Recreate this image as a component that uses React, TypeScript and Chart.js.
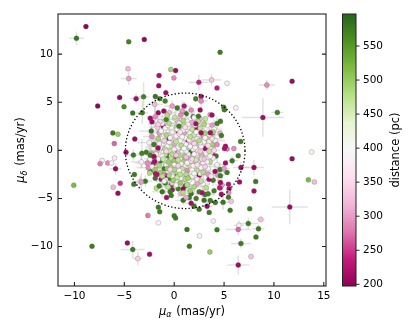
import React, { useEffect, useRef } from "react";
import { Chart, registerables } from "chart.js";

Chart.register(...registerables);

// ---------------- axis setup ----------------
const xTicks = [-10, -5, 0, 5, 10, 15];
const yTicks = [-10, -5, 0, 5, 10];
const cbTicks = [200, 250, 300, 350, 400, 450, 500, 550];
const xRange = [-11.65, 15.22];
const yRange = [-14.1, 14.17];
const distRange = [197.5, 597];
const circleCenter = [1.1, -0.05];
const circleRadius = 6;

// ---------------- outer (halo) stars ----------------
const haloRa = [
  -8.85, -9.8, -4.56, -3.0, 4.6, -4.63, -4.56, -0.34, 0.14, -1.52,
  -0.03, -1.55, 2.47, 3.75, 4.29, 5.3, 9.29, 11.82, -0.84, -5.47,
  -7.67, -3.82, -3.07, -5.03, -1.89, -1.45, -0.91, 2.16, 2.7, 2.7,
  4.97, 5.03, 6.18, 10.34, 8.89, -4.16, -2.4, -2.23, -6.15, -5.64,
  -3.95, -6.01, -4.83, -4.09, -3.24, -5.98, -7.23, -7.43, -6.66, -6.28,
  -5.88, -3.99, -3.41, -4.05, -5.41, -6.11, -5.64, -10.07, -2.64, -1.59,
  -1.45, -1.59, 0.0, 0.14, 1.28, 2.53, 1.52, 3.58, -4.7, -4.16,
  -3.65, -8.24, -2.47, 2.5, 3.51, 3.92, 4.29, 5.61, 5.44, 5.71,
  5.5, 5.44, 6.55, 6.69, 6.42, 6.66, 8.0, 8.17, 8.0, 7.57,
  7.43, 6.49, 6.42, 8.45, 8.68, 8.2, 6.69, 7.7, 6.42, 11.59,
  11.82, 13.78, 13.45, 14.05, 4.73, 4.56, 5.81, 5.3, 2.43, 3.79,
  3.14, 4.63, 2.17, 2.7, 3.62, 4.73, 5.14, 5.04, 5.98, 4.29,
  -1.96, -3.2, -1.04, -0.71, 0.07, 0.65, -1.62, 0.48, -2.23, -2.03,
  -1.62, -2.4, -2.03, -2.7, -1.96, -3.3, -3.3, -2.46, -1.88, -1.73,
  -1.79, -1.5, -0.77, -0.4, 5.14, 4.63, 4.63, 5.47, 3.62, 4.12,
];
const haloDec = [
  12.86, 11.64, 11.29, 11.53, 10.2, 8.47, 7.46, 8.4, 8.29, 7.77,
  7.53, 6.72, 7.07, 7.32, 6.48, 6.97, 6.79, 7.18, 5.99, 5.5,
  4.6, 5.37, 5.57, 4.53, 5.6, 5.37, 5.12, 5.37, 5.6, 5.12,
  4.49, 4.22, 4.42, 3.94, 3.41, 3.87, 3.34, 2.96, 1.81, 1.67,
  1.18, 0.7, -0.21, -0.49, -0.31, -0.8, -1.05, -1.39, -1.32, -1.32,
  -1.92, -2.51, -3.24, -3.52, -3.41, -3.83, -4.46, -3.62, -6.76, -5.92,
  -6.38, -7.53, -6.79, -7.04, -8.22, -8.89, -9.97, -10.56, -9.62, -10.31,
  -11.25, -9.97, -10.8, -6.13, -6.45, -7.35, -8.26, -6.24, -4.88, -5.3,
  -4.0, -3.52, -3.28, -1.78, -0.56, 0.91, -1.78, -3.24, -4.22, -6.06,
  -7.6, -7.8, -8.22, -8.15, -7.18, -9.02, -9.69, -11.04, -11.92, -5.89,
  -0.87, -0.17, -3.07, -3.28, -4.56, -3.9, -1.08, 0.14, 3.55, 3.66,
  3.28, 3.03, 2.76, 1.82, 1.82, 1.54, 0.42, 0.18, 0.18, 0.6,
  4.78, 3.91, 4.08, 3.66, 3.45, 3.66, 2.69, 2.51, 1.43, 0.6,
  0.25, -0.5, -0.63, -1.32, -1.15, -1.2, -3.3, -2.36, -2.43, -2.5,
  -3.93, -3.7, -4.91, -4.3, -1.32, -2.64, -3.34, -4.39, -5.22, -5.43,
];
const haloDist = [
  200, 580, 570, 205, 575, 320, 300, 490, 212, 220,
  290, 215, 240, 330, 235, 375, 290, 210, 215, 205,
  200, 215, 570, 560, 580, 575, 570, 570, 220, 290,
  570, 575, 380, 570, 215, 580, 215, 210, 575, 500,
  210, 270, 210, 575, 570, 365, 375, 280, 290, 385,
  210, 575, 370, 575, 250, 320, 210, 520, 280, 575,
  575, 385, 575, 575, 580, 380, 575, 500, 210, 575,
  340, 575, 215, 575, 575, 385, 575, 580, 575, 330,
  215, 225, 215, 210, 575, 575, 210, 575, 215, 575,
  575, 385, 270, 575, 330, 575, 575, 330, 210, 210,
  210, 420, 520, 320, 215, 230, 575, 280, 575, 215,
  470, 575, 215, 215, 215, 575, 215, 220, 290, 290,
  320, 575, 210, 480, 470, 290, 340, 575, 290, 575,
  215, 575, 210, 290, 215, 385, 300, 480, 215, 220,
  480, 575, 215, 575, 215, 575, 215, 290, 575, 575,
];
const haloErrRa = [
  0, 0.75, 0, 0, 0, 0, 0.8, 0, 0, 0,
  0, 0, 1.0, 1.0, 0, 0, 0.8, 0, 0, 0,
  0, 0.6, 0.5, 0, 0, 0, 0, 0, 0, 0.7,
  0, 0, 0, 0.6, 2.1, 0, 0, 0, 0, 0,
  0, 0, 0, 0.8, 0.5, 0, 0, 0, 0, 0,
  0.6, 0, 0.8, 0, 0, 0, 0, 0, 0, 0,
  0, 0, 0, 0, 0, 0, 0, 0, 0, 1.2,
  0.5, 0, 0, 0, 0, 0, 0, 0, 0, 0,
  0, 0, 0, 0.8, 0, 0, 1.0, 0, 0, 0,
  1.0, 0.5, 1.3, 0.6, 0.4, 0, 1.0, 0, 1.1, 1.8,
  0, 0, 0, 0, 0, 0, 0.6, 0, 0, 0,
  0, 0, 0, 0, 0, 0, 0, 0, 0, 0,
  0.8, 0.6, 0, 0, 0, 0, 1.0, 0, 0.9, 0.7,
  0, 0, 0, 1.2, 0, 1.0, 0.6, 0, 0, 0,
  0, 0, 0, 0, 0, 0, 0, 0, 0, 0,
];
const haloErrDec = [
  0, 0.7, 0, 0, 0, 0, 0.7, 0, 0, 0,
  0, 0, 0.8, 0.6, 0, 0, 0.5, 0, 0, 0,
  0, 0.5, 1.5, 0, 0, 0, 0, 0, 0, 0.8,
  0, 0, 0, 0.3, 2.0, 0, 0, 0, 0, 0,
  0, 0, 0.5, 0.6, 1.5, 0, 0, 0, 0, 0,
  0.6, 0, 0.6, 0, 0, 0, 0, 0, 0, 0,
  0, 0, 0, 0, 0, 0, 0, 0, 0, 0.9,
  0.7, 0, 0, 0, 0, 0, 0, 0, 0, 0,
  0, 0, 0, 0.6, 0, 0, 0.8, 0, 0, 0,
  0.6, 0.5, 0.6, 0.4, 0.3, 0, 0.5, 0, 1.0, 1.8,
  0, 0, 0, 0, 0, 0, 0.5, 0, 0, 0,
  0, 0, 0, 0, 0, 0, 0, 0, 0, 0,
  1.0, 1.2, 0, 0, 0, 0, 0.8, 0, 1.1, 0.6,
  0, 0, 0, 0.5, 0, 0.7, 0.9, 0, 0, 0,
  0, 0, 0, 0, 0, 0, 0, 0, 0, 0,
];

// ---------------- inner pale stars (cluster centre) ----------------
const innerRa = [
  -2.1, -1.6, -1.2, -0.7, -0.1, 0.5, 1.0, 1.5, 2.0, 2.6,
  3.1, 3.7, 4.0, -1.8, -1.3, -0.4, 0.3, 0.9, 1.6, 2.2,
  2.8, 3.5, -2.4, -0.9, 0.0, 0.7, 1.3, 2.0, 2.7, 3.3,
  -0.6, 0.1, 0.8, 1.4, 2.1, 2.9, 3.6, -1.5, 0.5, 1.9,
  -2.0, -1.5, -1.1, -0.6, -0.2, 0.4, 1.0, -1.9, -1.2, -0.3,
  0.3, 1.1, -2.3, -0.9, 0.0, 0.6, 1.4, 2.2, 2.9, 3.5,
  3.0, 2.4, 1.8, -0.5, -1.6, 0.2, 0.9, 1.6, 2.5, 3.9,
  -1.7, -0.8, 0.2, 1.1, 2.0, 3.0, 3.8, -1.0, 0.6, 1.8,
  2.6, 3.4, -2.2, -0.4, 0.4, 1.2, 2.3, 3.1, 4.0, -1.4,
];
const innerDec = [
  0.2, 1.0, -0.6, 0.4, -0.3, 1.7, 0.2, 1.1, -0.4, 0.8,
  1.3, -0.2, 2.2, -0.4, 2.0, 1.3, 2.2, -0.5, 0.4, 1.9,
  -0.9, 0.9, -0.9, -1.0, -1.5, -1.4, -1.3, -2.4, -1.8, -1.2,
  2.6, 3.3, 1.4, 2.7, 0.3, 2.8, -0.6, 0.7, -2.1, -1.6,
  -0.8, -1.6, -0.9, -1.2, -0.4, -1.0, -0.6, -2.0, -2.7, -1.8,
  -2.8, -3.0, -0.3, 0.1, -2.0, -2.5, -2.9, -1.0, -2.3, -0.1,
  2.7, 3.0, 2.2, 2.8, 1.2, 0.9, 3.1, 1.4, 1.0, 1.9,
  2.4, -0.1, -0.5, 2.4, 0.7, -0.9, 1.2, 1.0, 1.9, -0.9,
  -0.1, 0.5, -0.5, -2.0, -1.6, -0.7, -1.5, -1.7, 0.0, 3.0,
];
const innerDist = [
  385, 370, 400, 390, 410, 375, 395, 380, 405, 370,
  390, 385, 400, 375, 395, 380, 410, 370, 390, 400,
  385, 375, 395, 405, 380, 370, 390, 400, 385, 375,
  395, 380, 405, 370, 390, 385, 400, 375, 395, 380,
  470, 485, 460, 495, 480, 470, 490, 500, 475, 485,
  465, 480, 495, 470, 485, 475, 490, 460, 480, 470,
  485, 475, 465, 480, 490, 470, 485, 475, 480, 490,
  340, 350, 335, 355, 345, 330, 350, 340, 360, 345,
  335, 355, 340, 350, 345, 330, 355, 340, 350, 345,
];
const innerErrRa = [
  0.8, 0.6, 0, 1.0, 0.7, 0, 0.9, 0.6, 0, 1.1,
  0.7, 0, 0.8, 0.9, 0, 0.6, 1.0, 0, 0.7, 0.8,
  0, 0.9, 0.6, 0, 1.0, 0.7, 0, 0.8, 0.6, 0,
  0.9, 0.7, 0, 1.0, 0.8, 0, 0.6, 0.9, 0, 0.7,
  0.7, 0, 0.9, 0.6, 0, 0.8, 1.0, 0, 0.7, 0.6,
  0, 0.9, 0.8, 0, 0.6, 0.7, 0, 1.0, 0.8, 0,
  0.6, 0.9, 0, 0.7, 0.8, 0, 0.6, 1.0, 0, 0.7,
  0.8, 0, 0.7, 0.9, 0, 0.6, 1.0, 0, 0.8, 0.7,
  0, 0.9, 0.6, 0, 0.8, 0.7, 0, 1.0, 0.6, 0,
];
const innerErrDec = [
  0.7, 0.9, 0, 0.6, 1.0, 0, 0.8, 0.7, 0, 0.9,
  0.6, 0, 1.0, 0.7, 0, 0.8, 0.6, 0, 0.9, 0.7,
  0, 0.6, 1.0, 0, 0.8, 0.9, 0, 0.7, 1.0, 0,
  0.6, 0.8, 0, 0.9, 0.7, 0, 1.0, 0.6, 0, 0.8,
  0.9, 0, 0.7, 1.0, 0, 0.6, 0.8, 0, 0.9, 0.7,
  0, 0.6, 1.0, 0, 0.8, 0.9, 0, 0.7, 0.6, 0,
  0.8, 0.7, 0, 1.0, 0.6, 0, 0.9, 0.7, 0, 0.8,
  0.6, 0, 0.9, 0.7, 0, 1.0, 0.8, 0, 0.6, 0.9,
  0, 0.7, 0.8, 0, 1.0, 0.6, 0, 0.9, 0.7, 0,
];

// ---------------- core (cluster) stars ----------------
const coreRa = [
  -1.0, -0.6, 0.3, 1.1, 1.7, 2.5, 3.1, -0.3, 0.4, 2.2,
  -1.4, -1.9, -0.9, 3.0, 3.9, 4.0, 4.6, 4.2, 3.8, 1.2,
  0.3, -0.8, -2.3, -2.8, 1.9, 4.3, 0.0, 1.6, -0.3, 0.9,
  2.0, 3.4, 1.5, -1.2, -2.9, -2.4, 0.7, 5.3, 4.9, -0.4,
  0.4, 1.9, 1.4, -0.8, 2.8, 0.9, -0.5, 3.1, 2.2, -1.3,
  3.5, -1.6, 1.0, 2.5, 4.1, -2.1, 1.7, 3.9, 0.2, 1.4,
  -0.2, 2.6, -1.1, 4.6, 3.3,
  0.0, 1.0, 2.2, -1.0, 0.5, 1.4, 2.7, -0.5, 1.3, 2.4,
  -1.5, 0.3, 1.8, 2.9, 3.4, -0.2, 1.0, 2.0, -1.8, 3.9,
  0.8, 1.7, -0.5, 2.3, 4.4, -1.1, 3.0, 0.1, 1.6, 2.6,
  -0.2, 3.6, 4.8, 1.2, -2.6, 3.8, -1.9, 0.7, 5.0, 4.6,
  0.2, 0.9, 1.6, 2.3, -0.5, 0.4, 1.2, 1.9, 2.7, 3.2,
  -1.1, -0.3, 0.6, 1.4, 2.2, 2.9, -0.8, 0.1, 1.0, 1.8,
  2.6, 3.4, -0.2, 0.7, 1.5, 2.3, 3.0, 3.6, -1.3, -0.9,
  0.5, 1.3, 2.1, 2.8, 3.5, -1.6, -1.9, 1.1, 0.0, 0.8,
  1.7, 2.5, -0.6, 0.3, 1.9, 2.4, 0.6, -0.2, 1.5, 3.9,
  4.1, 3.3, -1.2, 0.9, 2.0, -2.2, -1.0, 3.7, 2.9, 0.2,
  4.3, -2.5, 1.8, 0.4, 1.2,
  -0.3, 0.1, 0.5, -0.7, 0.3, 0.8, -0.1, 1.2, 0.6, -0.9,
  0.9, 1.6, -0.5, 0.0, 1.3, 2.3, 2.8, 3.1, 3.3, 2.6,
  -0.4, 0.7, 1.5, -1.4, 2.0, 3.2, 2.1, 0.2, -0.8, 1.0,
  3.8, 3.6, 2.7, -1.7, 1.6, 0.9, -0.6, 2.0, 0.4, 1.9,
];
const coreDec = [
  -1.9, -0.6, -2.6, -3.7, -4.5, -4.3, -4.6, -3.6, -4.0, -5.0,
  -1.1, -2.9, -3.4, -5.2, -3.1, -4.2, -2.0, -0.6, 1.8, 3.8,
  4.4, 3.2, 2.0, -0.2, 3.5, 2.8, -0.2, -0.2, -4.7, -5.2,
  -5.8, -4.5, -4.9, -4.3, -3.2, -2.2, -1.5, -2.3, -5.4, -2.9,
  2.0, -0.4, -2.9, -2.6, -4.4, -4.0, 1.2, 0.2, 2.3, -3.0,
  -3.0, 3.9, 4.6, -2.6, -2.2, -1.4, -5.5, -0.5, -0.8, 1.0,
  -4.1, 4.2, 2.5, -3.9, -5.8,
  0.7, 1.8, 0.5, 0.0, -0.1, -0.9, -0.4, -1.3, -2.1, -1.2,
  1.8, 3.1, 2.9, 1.5, -2.5, -3.4, -3.0, -1.3, -1.2, 0.2,
  4.1, 4.2, 3.9, -3.5, -2.6, -2.5, -2.0, 1.2, 0.9, 3.3,
  4.6, 3.7, -3.6, -4.9, -1.8, 2.6, 3.5, -4.5, -1.9, 1.8,
  1.5, 2.1, 1.8, 1.2, 0.8, 0.3, 0.6, 0.1, 0.4, -0.3,
  -0.2, -0.6, -0.9, -0.4, -0.8, -1.3, -1.5, -1.9, -1.6, -2.0,
  -2.4, -1.9, -2.7, -2.9, -3.1, -3.0, 0.9, 0.3, 1.2, 2.3,
  2.8, 3.0, 2.6, 2.0, 1.6, -0.9, 0.4, 1.3, 0.1, -0.2,
  -1.1, -1.7, -2.2, -1.2, 1.6, 0.0, 1.0, 1.9, 2.4, -0.8,
  1.0, 2.6, 2.8, 3.5, 3.4, -1.7, -3.2, -2.7, -3.5, -3.6,
  -1.5, 0.8, -2.7, -0.4, -0.1,
  -0.9, -1.4, -0.5, -1.9, -2.3, -1.9, -3.1, -2.5, -3.4, -0.4,
  -1.2, -1.6, -2.6, -1.1, -3.6, -2.1, -0.7, 1.8, 1.2, 2.3,
  0.4, 0.5, 0.3, -2.3, -3.8, -3.9, 0.8, 2.4, 1.6, 2.6,
  0.6, -1.2, -3.2, 0.0, -4.2, -4.4, -3.8, 1.6, -1.6, -0.6,
];
const coreDist = [
  575, 570, 580, 575, 580, 570, 575, 580, 570, 575,
  575, 580, 575, 580, 575, 570, 575, 580, 575, 580,
  575, 570, 580, 575, 575, 570, 575, 580, 575, 580,
  575, 570, 575, 580, 575, 570, 575, 575, 580, 575,
  215, 225, 210, 215, 220, 210, 230, 215, 210, 220,
  215, 210, 225, 215, 210, 220, 215, 225, 240, 235,
  215, 210, 220, 215, 210,
  310, 300, 320, 290, 330, 300, 310, 320, 290, 330,
  300, 320, 310, 290, 300, 330, 320, 300, 310, 320,
  300, 290, 320, 310, 300, 290, 330, 340, 335, 320,
  300, 290, 300, 310, 290, 300, 290, 320, 300, 310,
  390, 380, 400, 370, 395, 410, 385, 375, 395, 380,
  400, 370, 390, 405, 365, 385, 375, 395, 380, 400,
  370, 390, 385, 375, 395, 365, 400, 375, 390, 380,
  370, 395, 385, 405, 380, 395, 370, 410, 380, 395,
  385, 400, 370, 405, 390, 380, 400, 375, 395, 370,
  385, 400, 365, 380, 390, 380, 395, 370, 385, 390,
  380, 385, 405, 395, 375,
  470, 490, 480, 500, 485, 470, 495, 480, 500, 475,
  490, 470, 485, 500, 480, 475, 470, 490, 480, 470,
  465, 480, 470, 495, 485, 475, 460, 475, 485, 470,
  490, 480, 470, 480, 495, 480, 470, 460, 500, 485,
];
const coreErrRa = [
  0.6, 0, 0.8, 0, 0.5, 0, 1.0, 0, 0.7, 0,
  0.9, 0, 0.6, 0, 0.8, 0, 0.5, 0, 0, 0.7,
  0, 0.9, 1.2, 0, 0, 0.6, 0, 0.5, 0, 0.8,
  0, 0.6, 0, 1.0, 0.7, 0, 0.5, 0, 0.6, 0,
  0.7, 0, 0.9, 0, 0.6, 0, 1.0, 0, 0.8, 0,
  0.5, 0, 0.7, 0, 0.9, 0, 0.6, 0, 0.8, 0,
  0.5, 0, 1.0, 0, 0.6,
  0, 0.8, 0, 1.0, 0, 0.6, 0, 0.9, 0, 0.7,
  1.1, 0, 0.8, 0, 0.6, 0, 0.9, 0, 1.0, 0,
  0.7, 0, 0.8, 0, 0.6, 0, 0.9, 0, 0.5, 0,
  0.8, 0, 0.7, 0, 1.2, 0, 0.9, 0, 0.6, 0,
  0.9, 0, 0.7, 0, 1.1, 0, 0.8, 0, 0.6, 0,
  1.0, 0, 0.9, 0, 0.7, 0, 1.2, 0, 0.8, 0,
  0.6, 0, 1.0, 0, 0.7, 0, 0.9, 0, 1.1, 0,
  0.8, 0, 0.6, 0, 0.9, 0, 1.0, 0, 0.7, 0,
  0.8, 0, 1.1, 0, 0.6, 0, 0.9, 0, 0.7, 0,
  1.0, 0, 0.8, 0, 0.6, 0, 0.9, 0, 0.7, 0,
  0.8, 1.2, 0, 0.6, 0,
  0.8, 0, 0.6, 0, 0.9, 0, 0.7, 0, 1.0, 0,
  0.6, 0, 0.8, 0, 0.7, 0, 0.9, 0, 0.6, 0,
  0.8, 0, 1.0, 0, 0.7, 0, 0.6, 0, 0.9, 0,
  0.8, 0, 0.7, 0, 0.6, 0, 0.9, 0, 0.8, 0,
];
const coreErrDec = [
  0.8, 0, 0.6, 0, 1.0, 0, 0.7, 0, 0.9, 0,
  0.5, 0, 1.2, 0, 0.6, 0, 0.8, 0, 0, 0.6,
  0, 1.1, 0.8, 0, 0, 0.7, 0, 0.6, 0, 0.5,
  0, 0.9, 0, 0.7, 0.6, 0, 0.7, 0, 0.8, 0,
  0.9, 0, 0.6, 0, 0.8, 0, 0.7, 0, 1.0, 0,
  0.6, 0, 0.5, 0, 0.8, 0, 0.9, 0, 0.6, 0,
  0.7, 0, 0.8, 0, 0.5,
  0, 0.6, 0, 0.8, 0, 1.0, 0, 0.7, 0, 0.9,
  0.8, 0, 1.1, 0, 0.7, 0, 0.6, 0, 0.9, 0,
  1.0, 0, 0.6, 0, 0.8, 0, 0.7, 0, 0.9, 0,
  0.6, 0, 0.8, 0, 0.9, 0, 1.1, 0, 0.7, 0,
  0.7, 0, 1.0, 0, 0.8, 0, 0.6, 0, 0.9, 0,
  0.7, 0, 1.1, 0, 0.8, 0, 0.9, 0, 0.6, 0,
  1.0, 0, 0.7, 0, 0.9, 0, 0.6, 0, 0.8, 0,
  1.1, 0, 0.7, 0, 0.8, 0, 0.6, 0, 1.0, 0,
  0.9, 0, 0.7, 0, 0.8, 0, 1.0, 0, 0.6, 0,
  0.7, 0, 0.9, 0, 0.8, 0, 0.6, 0, 1.0, 0,
  0.7, 0.9, 0, 0.8, 0,
  0.6, 0, 0.9, 0, 0.7, 0, 1.0, 0, 0.6, 0,
  0.8, 0, 0.7, 0, 0.9, 0, 0.6, 0, 0.8, 0,
  1.0, 0, 0.7, 0, 0.6, 0, 0.8, 0, 0.7, 0,
  0.9, 0, 0.6, 0, 0.8, 0, 0.7, 0, 1.0, 0,
];

// ---------------- combined series ----------------
const pmRa = [...coreRa, ...innerRa, ...haloRa];
const pmDec = [...coreDec, ...innerDec, ...haloDec];
const distance = [...coreDist, ...innerDist, ...haloDist];
const errRa = [...coreErrRa, ...innerErrRa, ...haloErrRa];
const errDec = [...coreErrDec, ...innerErrDec, ...haloErrDec];

// matplotlib PiYG colormap stops
const PIYG = [
  [142, 1, 82], [197, 27, 125], [222, 119, 174], [241, 182, 218], [253, 224, 239],
  [247, 247, 247], [230, 245, 208], [184, 225, 134], [127, 188, 65], [77, 146, 33],
  [39, 100, 25],
];

function cmap(d: number): string {
  let t = (d - distRange[0]) / (distRange[1] - distRange[0]);
  t = Math.max(0, Math.min(1, t));
  const p = t * (PIYG.length - 1);
  const i = Math.min(PIYG.length - 2, Math.floor(p));
  const f = p - i;
  const a = PIYG[i], b = PIYG[i + 1];
  const c = [0, 1, 2].map((k) => Math.round(a[k] + (b[k] - a[k]) * f));
  return `rgb(${c[0]},${c[1]},${c[2]})`;
}

const FAMILY = '"DejaVu Sans", sans-serif';
const TICK_SIZE = 10.5;
const LABEL_SIZE = 11.5;

const fmt = (v: number) => (v < 0 ? "\u2212" + Math.abs(v) : String(v));

function drawMathLabel(
  ctx: CanvasRenderingContext2D,
  sym: string,
  sub: string,
  rest: string,
  cx: number,
  cy: number,
  angle: number
) {
  ctx.save();
  ctx.translate(cx, cy);
  ctx.rotate(angle);
  ctx.fillStyle = "#000";
  ctx.textBaseline = "alphabetic";
  ctx.textAlign = "left";
  const fMain = `${LABEL_SIZE}px ${FAMILY}`;
  const fIt = `italic ${LABEL_SIZE}px ${FAMILY}`;
  const fSub = `italic ${LABEL_SIZE * 0.7}px ${FAMILY}`;
  ctx.font = fIt;
  const w1 = ctx.measureText(sym).width;
  ctx.font = fSub;
  const w2 = ctx.measureText(sub).width;
  ctx.font = fMain;
  const w3 = ctx.measureText(rest).width;
  const total = w1 + w2 + w3 + 1;
  let x = -total / 2;
  const base = LABEL_SIZE * 0.36;
  ctx.font = fIt;
  ctx.fillText(sym, x, base);
  x += w1;
  ctx.font = fSub;
  ctx.fillText(sub, x, base + LABEL_SIZE * 0.22);
  x += w2 + 1;
  ctx.font = fMain;
  ctx.fillText(rest, x, base);
  ctx.restore();
}

const decorPlugin = {
  id: "decor",
  beforeDatasetsDraw(chart: any) {
    const { ctx, chartArea: a } = chart;
    const xs = chart.scales.x;
    const ys = chart.scales.y;
    ctx.save();
    ctx.beginPath();
    ctx.rect(a.left, a.top, a.right - a.left, a.bottom - a.top);
    ctx.clip();
    ctx.strokeStyle = "rgba(185,185,185,0.42)";
    ctx.lineWidth = 1.5;
    ctx.lineCap = "butt";
    for (let i = 0; i < pmRa.length; i++) {
      const px = xs.getPixelForValue(pmRa[i]);
      const py = ys.getPixelForValue(pmDec[i]);
      if (errRa[i] > 0) {
        ctx.beginPath();
        ctx.moveTo(xs.getPixelForValue(pmRa[i] - errRa[i]), py);
        ctx.lineTo(xs.getPixelForValue(pmRa[i] + errRa[i]), py);
        ctx.stroke();
      }
      if (errDec[i] > 0) {
        ctx.beginPath();
        ctx.moveTo(px, ys.getPixelForValue(pmDec[i] - errDec[i]));
        ctx.lineTo(px, ys.getPixelForValue(pmDec[i] + errDec[i]));
        ctx.stroke();
      }
    }
    ctx.restore();
  },
  afterDatasetsDraw(chart: any) {
    const { ctx, chartArea: a } = chart;
    const xs = chart.scales.x;
    const ys = chart.scales.y;
    const cb = chart.scales.cb;

    // dotted circle
    const cx = xs.getPixelForValue(circleCenter[0]);
    const cy = ys.getPixelForValue(circleCenter[1]);
    const rx = Math.abs(xs.getPixelForValue(circleCenter[0] + circleRadius) - cx);
    const ry = Math.abs(ys.getPixelForValue(circleCenter[1] + circleRadius) - cy);
    ctx.save();
    ctx.strokeStyle = "#000";
    ctx.lineWidth = 1.3;
    ctx.setLineDash([1.3, 2.2]);
    ctx.beginPath();
    ctx.ellipse(cx, cy, rx, ry, 0, 0, Math.PI * 2);
    ctx.stroke();
    ctx.restore();

    // frame
    ctx.save();
    ctx.strokeStyle = "#222";
    ctx.lineWidth = 1.1;
    ctx.strokeRect(a.left, a.top, a.right - a.left, a.bottom - a.top);
    // inward ticks
    const tl = 4;
    ctx.beginPath();
    xTicks.forEach((v) => {
      const p = xs.getPixelForValue(v);
      if (p < a.left - 0.5 || p > a.right + 0.5) return;
      ctx.moveTo(p, a.bottom);
      ctx.lineTo(p, a.bottom - tl);
    });
    yTicks.forEach((v) => {
      const p = ys.getPixelForValue(v);
      ctx.moveTo(a.left, p);
      ctx.lineTo(a.left + tl, p);
      ctx.moveTo(a.right, p);
      ctx.lineTo(a.right - tl, p);
    });
    ctx.stroke();
    ctx.restore();

    // colorbar
    const barL = a.right + 16.5;
    const barR = a.right + 30;
    const top = cb.getPixelForValue(distRange[1]);
    const bot = cb.getPixelForValue(distRange[0]);
    ctx.save();
    const steps = Math.ceil(bot - top);
    for (let k = 0; k < steps; k++) {
      const y0 = top + k;
      const val = cb.getValueForPixel(y0 + 0.5);
      ctx.fillStyle = cmap(val);
      ctx.fillRect(barL, y0, barR - barL, 1.05);
    }
    ctx.strokeStyle = "#222";
    ctx.lineWidth = 1;
    ctx.strokeRect(barL, top, barR - barL, bot - top);
    ctx.beginPath();
    cbTicks.forEach((v) => {
      const p = cb.getPixelForValue(v);
      ctx.moveTo(barR, p);
      ctx.lineTo(barR + 3.5, p);
    });
    ctx.stroke();
    ctx.restore();

    // colorbar title
    ctx.save();
    ctx.translate(a.right + 70.5, (a.top + a.bottom) / 2);
    ctx.rotate(-Math.PI / 2);
    ctx.font = `${LABEL_SIZE}px ${FAMILY}`;
    ctx.fillStyle = "#000";
    ctx.textAlign = "center";
    ctx.textBaseline = "middle";
    ctx.fillText("distance (pc)", 0, 0);
    ctx.restore();

    // axis titles
    drawMathLabel(ctx, "\u03bc", "\u03b1", " (mas/yr)", (a.left + a.right) / 2, a.bottom + 24.5, 0);
    drawMathLabel(ctx, "\u03bc", "\u03b4", " (mas/yr)", 20, (a.top + a.bottom) / 2, -Math.PI / 2);
  },
};

const noPad = (s: any) => {
  s.paddingTop = 0;
  s.paddingBottom = 0;
  s.paddingLeft = 0;
  s.paddingRight = 0;
};

export default function App() {
  const ref = useRef<HTMLCanvasElement>(null);
  useEffect(() => {
    const points = pmRa.map((v, i) => ({ x: v, y: pmDec[i] }));
    const colors = distance.map((d) => cmap(d));
    const tickFont = { family: FAMILY, size: TICK_SIZE };
    const chart = new Chart(ref.current as HTMLCanvasElement, {
      type: "scatter",
      data: {
        datasets: [
          {
            data: points,
            pointBackgroundColor: colors,
            pointBorderColor: "rgba(95,95,95,0.55)",
            pointBorderWidth: 0.5,
            pointRadius: 2.5,
            pointHoverRadius: 2.5,
            showLine: false,
          } as any,
        ],
      },
      options: {
        responsive: false,
        animation: false,
        events: [],
        layout: { padding: { top: 14, left: 0, right: 0, bottom: 0 } },
        plugins: { legend: { display: false }, tooltip: { enabled: false } },
        scales: {
          x: {
            type: "linear",
            min: xRange[0],
            max: xRange[1],
            afterBuildTicks: (s: any) => {
              s.ticks = xTicks.map((v) => ({ value: v }));
            },
            afterFit: (s: any) => {
              s.height = 46;
              noPad(s);
            },
            ticks: {
              callback: (v: any) => fmt(Number(v)),
              font: tickFont,
              color: "#000",
              padding: 4,
              maxRotation: 0,
              autoSkip: false,
            },
            grid: { display: false, drawTicks: false },
            border: { display: false },
          },
          y: {
            type: "linear",
            min: yRange[0],
            max: yRange[1],
            afterBuildTicks: (s: any) => {
              s.ticks = yTicks.map((v) => ({ value: v }));
            },
            afterFit: (s: any) => {
              s.width = 58;
              noPad(s);
            },
            ticks: {
              callback: (v: any) => fmt(Number(v)),
              font: tickFont,
              color: "#000",
              padding: 5,
              autoSkip: false,
            },
            grid: { display: false, drawTicks: false },
            border: { display: false },
          },
          cb: {
            type: "linear",
            axis: "y",
            position: "right",
            min: distRange[0],
            max: distRange[1],
            afterBuildTicks: (s: any) => {
              s.ticks = cbTicks.map((v) => ({ value: v }));
            },
            afterFit: (s: any) => {
              s.width = 89;
              noPad(s);
            },
            ticks: {
              font: tickFont,
              color: "#000",
              padding: 37,
              autoSkip: false,
            },
            grid: { display: false, drawTicks: false },
            border: { display: false },
          } as any,
        },
      },
      plugins: [decorPlugin],
    });
    return () => chart.destroy();
  }, []);
  return (
    <div style={{ position: "absolute", left: 0, top: 0, width: 415, height: 332, background: "#fff" }}>
      <canvas ref={ref} width={415} height={332} style={{ display: "block", width: 415, height: 332 }} />
    </div>
  );
}
